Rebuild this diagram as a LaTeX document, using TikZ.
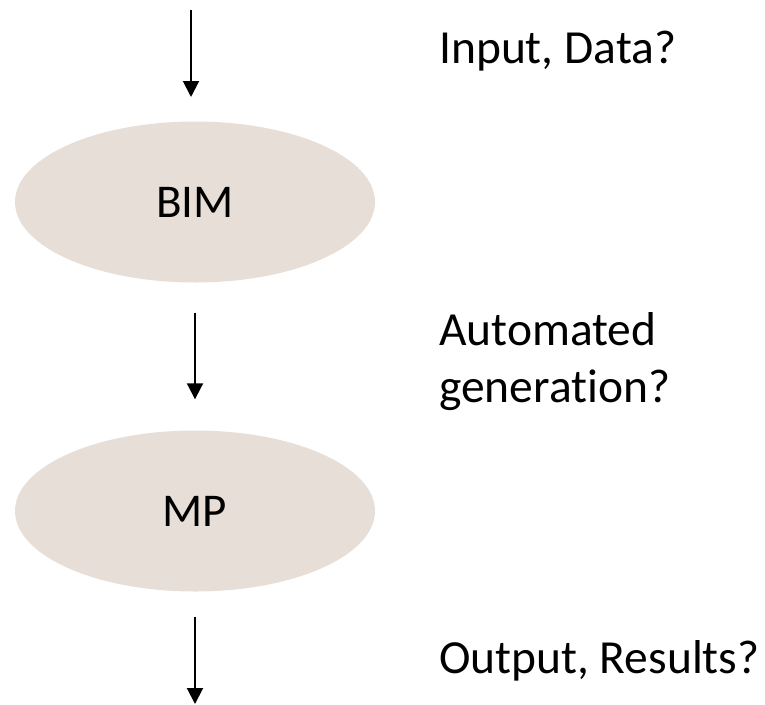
\documentclass[tikz,border=0pt]{standalone}
\usepackage{fontspec}
\setmainfont{Carlito}[Ligatures=NoCommon]
\usetikzlibrary{shapes.geometric,arrows.meta}
\definecolor{stone}{RGB}{231,222,216}
\tikzset{
  stage/.style={ellipse, fill=stone, draw=none, minimum width=360pt,
    minimum height=161pt, inner sep=0pt, font=\fontsize{47pt}{57pt}\selectfont},
  flow/.style={line width=2pt, -{Triangle[width=16pt,length=16pt]}},
  note/.style={anchor=base west, inner sep=0pt, align=left,
    font=\fontsize{47.5pt}{57pt}\selectfont}
}
\begin{document}
\begin{tikzpicture}[x=1pt,y=-1pt]
  \useasboundingbox (0,0) rectangle (765,704);
  % process stages
  \node[stage] (bim) at (195,202) {BIM};
  \node[stage] (mp)  at (195,511) {MP};
  % free ends of the outer arrows
  \coordinate (inTop) at (191,10);
  \coordinate (inTip) at (191,97);
  \coordinate (outTop) at (195,617);
  \coordinate (outTip) at (195,704);
  % arrows
  \draw[flow] (inTop) -- (inTip);
  \draw[flow, shorten <=30pt, shorten >=31pt] (bim.south) -- (mp.north);
  \draw[flow] (outTop) -- (outTip);
  % side notes (base anchor of a two-line note sits on its last line)
  \node[note] (lblIn)  at (439,63)  {Input, Data?};
  \node[note] (lblGen) at (439,402) {Automated\\generation?};
  \node[note] (lblOut) at (439,673) {Output, Results?};
\end{tikzpicture}
\end{document}
